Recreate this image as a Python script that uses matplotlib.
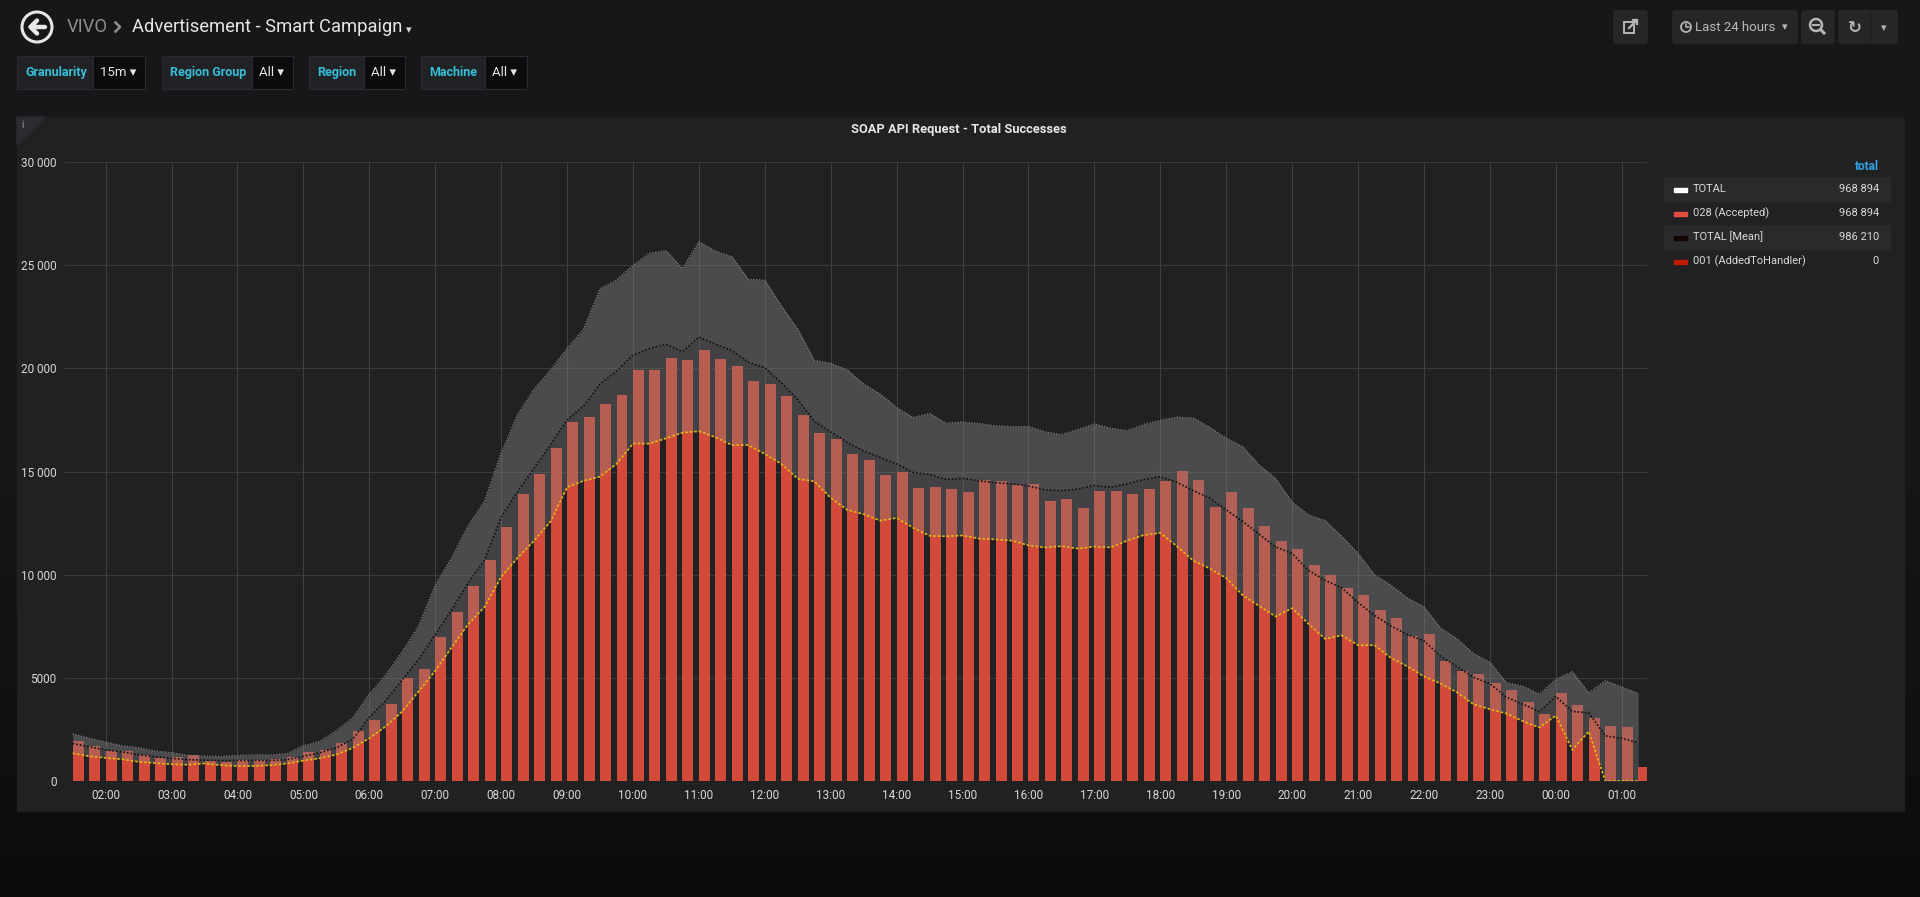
import numpy as np
import pandas as pd
import matplotlib
matplotlib.use('Agg')
import matplotlib.pyplot as plt
import matplotlib.dates as mdates
from matplotlib.patches import Rectangle, Circle, Polygon, FancyBboxPatch
from matplotlib.colors import LinearSegmentedColormap
from matplotlib.ticker import FuncFormatter, MultipleLocator

plt.rcParams['font.family'] = ['Roboto', 'DejaVu Sans']

# 15 minute buckets over the last 24 hours
times = pd.date_range('2018-06-01 01:30', periods=96, freq='15min')

# 028 (Accepted) - the bars
accepted = [1920, 1680, 1450, 1430, 1260, 1100, 1180, 1240, 950, 930,
            1040, 1040, 1060, 1160, 1390, 1510, 1840, 2400, 2960, 3750,
            4970, 5440, 6970, 8170, 9440,
            10720, 12330, 13900, 14900, 16120, 17400, 17650, 18290, 18700, 19900,
            19900, 20480, 20420, 20900, 20460, 20110, 19390, 19260, 18640, 17750,
            16860, 16590, 15830, 15580,
            14810, 15000, 14210, 14240, 14150, 13990, 14590, 14520, 14340, 14380,
            13550, 13660, 13240, 14070, 14050, 13900, 14170, 14520, 15020, 14590,
            13280, 14010, 13220, 12370, 11650,
            11260, 10450, 9970, 9330, 9020, 8300, 7920, 7010, 7120, 5840,
            5320, 5190, 4760, 4410, 3830, 3250, 4260, 3660, 3040, 2650,
            2610, 680]

# TOTAL [Mean] and its band
band_upper = [2280, 2070, 1880, 1700, 1610, 1450, 1370, 1240, 1200, 1180,
              1240, 1260, 1260, 1320, 1700, 1920, 2440, 3060, 4200, 5130,
              6270, 7510, 9480, 10820, 12370,
              13570, 15890, 17750, 18990, 19920, 20960, 21890, 23860, 24270, 24990,
              25570, 25700, 24830, 26130, 25680, 25410, 24310, 24270, 23030, 21890,
              20380, 20240, 19920, 19240,
              18750, 18100, 17610, 17810, 17340, 17400, 17320, 17210, 17170, 17170,
              16920, 16780, 17030, 17300, 17090, 16970, 17280, 17480, 17630, 17590,
              17130, 16610, 16200, 15310, 14650,
              13510, 12890, 12620, 11860, 11030, 9990, 9480, 8860, 8440, 7410,
              6890, 6170, 5750, 4760, 4590, 4200, 4920, 5300, 4260, 4860,
              4550, 4240]

band_mean = [1820, 1660, 1510, 1410, 1280, 1180, 1100, 1035, 1015, 995,
             995, 995, 995, 1035, 1200, 1370, 1610, 2030, 3100, 3900,
             4900, 5900, 7100, 8300, 9600,
             10720, 12790, 14030, 15170, 16300, 17500, 18170, 19240, 19860, 20650,
             20960, 21170, 20810, 21520, 21170, 20860, 20300, 20030, 19300, 18480,
             17440, 16920, 16410, 15990,
             15680, 15370, 14960, 14860, 14610, 14670, 14550, 14460, 14400, 14300,
             14110, 14070, 14150, 14320, 14240, 14400, 14610, 14750, 14480, 14070,
             13720, 13140, 12580, 11960, 11340,
             11030, 10200, 9720, 9370, 8650, 8030, 7510, 7100, 6790, 6060,
             5550, 5030, 4720, 4060, 3720, 3370, 4100, 3370, 3310, 2190,
             2070, 1860]

band_lower = [1345, 1200, 1120, 1055, 930, 870, 810, 790, 850, 765,
              725, 725, 765, 850, 990, 1100, 1280, 1610, 2070, 2650,
              3370, 4350, 5340, 6480, 7600,
              8440, 9890, 10820, 11650, 12580, 14240, 14550, 14750, 15370, 16350,
              16350, 16610, 16880, 16950, 16660, 16280, 16280, 15850, 15370, 14650,
              14520, 13720, 13140, 12930,
              12620, 12750, 12270, 11880, 11860, 11900, 11750, 11710, 11650, 11420,
              11320, 11380, 11260, 11360, 11320, 11650, 11920, 12020, 11380, 10680,
              10300, 9830, 9000, 8480, 7970,
              8380, 7610, 6890, 7060, 6580, 6580, 5960, 5550, 5070, 4720,
              4300, 3720, 3480, 3270, 2900, 2590, 3170, 1510, 2400, 0,
              0, 0]

legend_names = ['TOTAL', '028 (Accepted)', 'TOTAL [Mean]', '001 (AddedToHandler)']
legend_totals = ['968 894', '968 894', '986 210', '0']
legend_colors = ['#ffffff', '#e24d42', '#140505', '#bf1b00']

variables = [('Granularity', '15m'), ('Region Group', 'All'), ('Region', 'All'), ('Machine', 'All')]

W, H = 1920, 897
fig = plt.figure(figsize=(W / 100, H / 100), dpi=100)
fig.patch.set_facecolor('#141517')

# page / panel chrome drawn in pixel coordinates
bg = fig.add_axes([0, 0, 1, 1], zorder=0)
bg.set_xlim(0, W)
bg.set_ylim(H, 0)
bg.axis('off')
grad = np.linspace(0, 1, 256).reshape(-1, 1)
cmap = LinearSegmentedColormap.from_list('page', ['#17181a', '#161719', '#0b0c0e'])
bg.imshow(grad, extent=(0, W, H, 0), aspect='auto', cmap=cmap, zorder=0)

bg.add_patch(Rectangle((17, 117), 1887, 694, color='#212124', zorder=1))
bg.add_patch(Polygon([(17, 117), (45, 117), (17, 145)], closed=True, color='#2c2c30', zorder=2))
bg.text(23, 125, 'i', color='#9a9a9a', fontsize=7, ha='center', va='center', zorder=3)
bg.text(959, 130, 'SOAP API Request - Total Successes', color='#e6e6e6', fontsize=9.3,
        fontweight='bold', ha='center', va='center', zorder=3)

# header: back button + breadcrumb
bg.add_patch(Circle((37, 27), 15, fill=False, ec='#e6e6e6', lw=2.2, zorder=3))
bg.plot([45, 31], [27, 27], color='#e6e6e6', lw=3.2, solid_capstyle='round', zorder=3)
bg.plot([37, 30.5, 37], [20.5, 27, 33.5], color='#e6e6e6', lw=3.2, solid_capstyle='round',
        solid_joinstyle='round', zorder=3)
bg.text(67, 27, 'VIVO', color='#8e8e8e', fontsize=13.2, va='center', zorder=3)
bg.plot([115.5, 120, 115.5], [22.5, 27, 31.5], color='#8e8e8e', lw=1.8, zorder=3)
bg.text(132, 27, 'Advertisement - Smart Campaign', color='#e6e6e6', fontsize=13.2,
        va='center', zorder=3)
bg.text(409, 30, '▾', color='#d8d9da', fontsize=8, ha='center', va='center', zorder=3)

# template variables row
label_boxes = [(17, 93, 145), (162, 252, 293), (309, 364, 405), (421, 485, 527)]
for (lab, val), (x0, x1, x2) in zip(variables, label_boxes):
    bg.add_patch(Rectangle((x0, 56), x1 - x0, 33, fc='#202226', ec='#292a2d', lw=0.8, zorder=2))
    bg.add_patch(Rectangle((x1, 56), x2 - x1, 33, fc='#0b0c0e', ec='#292a2d', lw=0.8, zorder=2))
    bg.text(x0 + 8, 72.5, lab, color='#36bfd6', fontsize=9, fontweight='bold', va='center', zorder=3)
    bg.text(x1 + 7, 72.5, val + ' ▾', color='#e6e6e6', fontsize=9.5, va='center', zorder=3)

# top right toolbar
for x0, x1 in [(1614, 1647), (1673, 1797), (1802, 1834), (1839, 1897)]:
    bg.add_patch(FancyBboxPatch((x0, 11), x1 - x0, 32, boxstyle='round,pad=0,rounding_size=2',
                                fc='#262628', ec='#2c2c2f', lw=0.8, zorder=2))
bg.plot([1870, 1870], [13, 41], color='#1c1c1e', lw=1, zorder=3)
bg.add_patch(Rectangle((1624, 22), 10, 11, fill=False, ec='#b5b5b5', lw=1.4, zorder=3))
bg.plot([1629, 1637], [28, 20], color='#b5b5b5', lw=1.6, zorder=3)
bg.plot([1633, 1637, 1637], [20, 20, 24], color='#b5b5b5', lw=1.6, zorder=3)
bg.add_patch(Circle((1686, 27), 5, fill=False, ec='#b5b5b5', lw=1.3, zorder=3))
bg.plot([1686, 1686, 1688.5], [24, 27, 27], color='#b5b5b5', lw=1.1, zorder=3)
bg.text(1695, 27.5, 'Last 24 hours', color='#b9b9b9', fontsize=9.5, va='center', zorder=3)
bg.text(1785, 27, '▾', color='#b9b9b9', fontsize=8, ha='center', va='center', zorder=3)
bg.add_patch(Circle((1816, 25), 6, fill=False, ec='#b5b5b5', lw=1.8, zorder=3))
bg.plot([1813, 1819], [25, 25], color='#b5b5b5', lw=1.5, zorder=3)
bg.plot([1820.5, 1824], [29.5, 33], color='#b5b5b5', lw=2.2, zorder=3)
bg.text(1855, 27.5, '↻', color='#b5b5b5', fontsize=12, ha='center', va='center',
        family='DejaVu Sans', fontweight='bold', zorder=3)
bg.text(1884, 28, '▾', color='#b5b5b5', fontsize=8, ha='center', va='center', zorder=3)

# legend table
bg.text(1879, 166, 'total', color='#33a2e5', fontsize=8.5, fontweight='bold',
        ha='right', va='center', zorder=3)
row_y = [189, 213, 237, 261]
for k, (name, tot, col) in enumerate(zip(legend_names, legend_totals, legend_colors)):
    if k % 2 == 0:
        bg.add_patch(Rectangle((1664, row_y[k] - 12), 226, 24, color='#2a2a2d', zorder=2))
    bg.add_patch(Rectangle((1674, row_y[k] - 1), 13, 4, color=col, zorder=3))
    bg.text(1693, row_y[k], name, color='#d8d9da', fontsize=8, va='center', zorder=3)
    bg.text(1879, row_y[k], tot, color='#d8d9da', fontsize=8, ha='right', va='center', zorder=3)

# main graph
ax = fig.add_axes([65 / W, 1 - 781 / H, (1647 - 65) / W, (781 - 162) / H], zorder=1)
ax.set_facecolor('none')

ax.bar(times, accepted, width=10 / 1440, align='edge', color='#d44a3a', lw=0, zorder=2)
ax.fill_between(times, band_mean, band_upper, color='#828282', alpha=0.44, lw=0, zorder=3)
ax.fill_between(times, band_lower, band_mean, color='#828282', alpha=0.34, lw=0, zorder=3)
ax.plot(times, band_upper, color='#767676', lw=1, ls=(0, (1, 1)), zorder=4)
ax.plot(times, band_mean, color='#101010', lw=1.2, ls=(0, (1, 1.2)), zorder=4)
ax.plot(times, band_lower, color='#e8b90c', lw=1.2, ls=(0, (1.5, 1.2)), zorder=4)

t0 = times[0] - pd.Timedelta(minutes=7)
ax.set_xlim(t0, t0 + pd.Timedelta(hours=24))
ax.set_ylim(0, 30000)
ax.yaxis.set_major_locator(MultipleLocator(5000))


def fmt_y(v, pos):
    v = int(round(v))
    return f'{v:,}'.replace(',', ' ') if v >= 10000 else str(v)


ax.yaxis.set_major_formatter(FuncFormatter(fmt_y))
ax.xaxis.set_major_locator(mdates.HourLocator())
ax.xaxis.set_major_formatter(mdates.DateFormatter('%H:%M'))
ax.grid(axis='y', color='#39393c', lw=0.8)
ax.grid(axis='x', color='#404043', lw=0.8)
ax.set_axisbelow(True)
for s in ax.spines.values():
    s.set_visible(False)
ax.tick_params(length=0, colors='#d8d9da', labelsize=8.5)
ax.tick_params(axis='x', pad=6)
ax.tick_params(axis='y', pad=6)

fig.savefig('out.png', dpi=100, facecolor=fig.get_facecolor())
